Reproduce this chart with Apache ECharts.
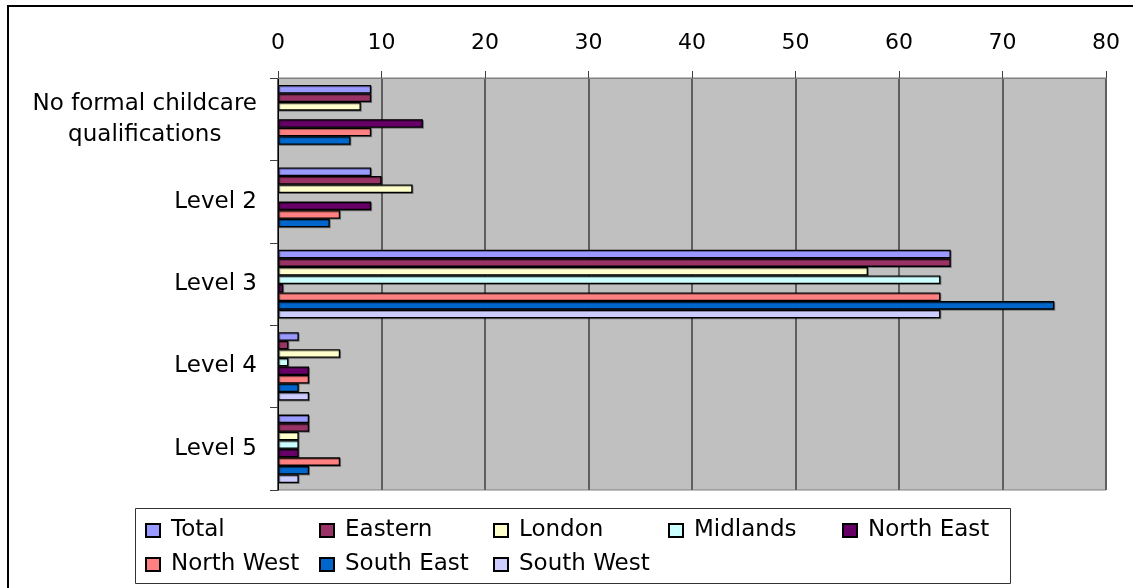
<!DOCTYPE html>
<html>
<head>
<meta charset="utf-8">
<script src="https://cdn.jsdelivr.net/npm/echarts@6/dist/echarts.min.js"></script>
<style>
  html, body { margin: 0; padding: 0; background: #fff; }
  #chart { width: 1133px; height: 588px; }
</style>
</head>
<body>
<div id="chart"></div>
<script>
// ---- data ----
const categories = ['No formal childcare\nqualifications', 'Level 2', 'Level 3', 'Level 4', 'Level 5'];
const seriesNames = ['Total', 'Eastern', 'London', 'Midlands', 'North East', 'North West', 'South East', 'South West'];
const total     = [9, 9, 65, 2, 3];
const eastern   = [9, 10, 65, 1, 3];
const london    = [8, 13, 57, 6, 2];
const midlands  = [null, null, 64, 1, 2];
const northEast = [14, 9, 0.5, 3, 2];
const northWest = [9, 6, 64, 3, 6];
const southEast = [7, 5, 75, 2, 3];
const southWest = [null, null, 64, 3, 2];
const xTicks = [0, 10, 20, 30, 40, 50, 60, 70, 80];

const seriesValues = [total, eastern, london, midlands, northEast, northWest, southEast, southWest];
const colors = ['#9999FF', '#993366', '#FFFFCC', '#CCFFFF', '#660066', '#FF8080', '#0066CC', '#CCCCFF'];

const FONT = 'DejaVu Sans';

// legend positions (layout only)
const legendPos = [
  [145, 519], [319, 519], [493, 519], [668, 519], [842, 519],
  [145, 553], [319, 553], [493, 553]
];

const chart = echarts.init(document.getElementById('chart'), null, { renderer: 'canvas' });

const option = {
  animation: false,
  backgroundColor: '#ffffff',
  color: colors,
  graphic: [
    { type: 'rect', z: 0, silent: true,
      shape: { x: 8, y: 6, width: 1150, height: 620 },
      style: { fill: 'none', stroke: '#000', lineWidth: 2 } },
    { type: 'rect', z: 0, silent: true,
      shape: { x: 135.5, y: 508.5, width: 875, height: 75 },
      style: { fill: '#fff', stroke: '#333', lineWidth: 1 } }
  ],
  legend: seriesNames.map((n, i) => ({
    data: [n],
    left: legendPos[i][0],
    top: legendPos[i][1],
    padding: 0,
    itemWidth: 14,
    itemHeight: 13,
    icon: 'rect',
    selectedMode: false,
    textStyle: { fontFamily: FONT, fontSize: 23, color: '#000', padding: [0, 0, 0, 6] }
  })),
  grid: {
    left: 278, top: 78, width: 828, height: 412,
    show: true, backgroundColor: '#C0C0C0', borderColor: '#808080', borderWidth: 1,
    containLabel: false
  },
  xAxis: {
    type: 'value',
    position: 'top',
    min: xTicks[0],
    max: xTicks[xTicks.length - 1],
    interval: 10,
    axisLine: { show: true, lineStyle: { color: '#808080', width: 1 } },
    axisTick: { show: true, length: 7, lineStyle: { color: '#404040', width: 1 } },
    axisLabel: { fontFamily: FONT, fontSize: 22, color: '#000', margin: 24 },
    splitLine: { show: true, lineStyle: { color: '#5f5f5f', width: 2 } }
  },
  yAxis: {
    type: 'category',
    inverse: true,
    data: categories,
    axisLine: { show: true, lineStyle: { color: '#000', width: 1 } },
    axisTick: { show: true, length: 8, alignWithLabel: false, lineStyle: { color: '#404040', width: 1 } },
    axisLabel: {
      margin: 21,
      formatter: function (v) {
        return v.split('\n').map(s => '{c|' + s + '}').join('\n');
      },
      rich: { c: { fontFamily: FONT, fontSize: 23, color: '#000', align: 'center', lineHeight: 31 } }
    },
    splitLine: { show: false }
  },
  series: seriesNames.map((n, i) => ({
    name: n,
    type: 'bar',
    data: seriesValues[i],
    barGap: '0%',
    barCategoryGap: '17%',
    itemStyle: {
      color: colors[i], borderColor: '#000', borderWidth: 1.3,
      shadowColor: 'rgba(0,0,0,0.35)', shadowOffsetX: 1, shadowOffsetY: 1, shadowBlur: 0
    }
  }))
};

chart.setOption(option);
</script>
</body>
</html>
